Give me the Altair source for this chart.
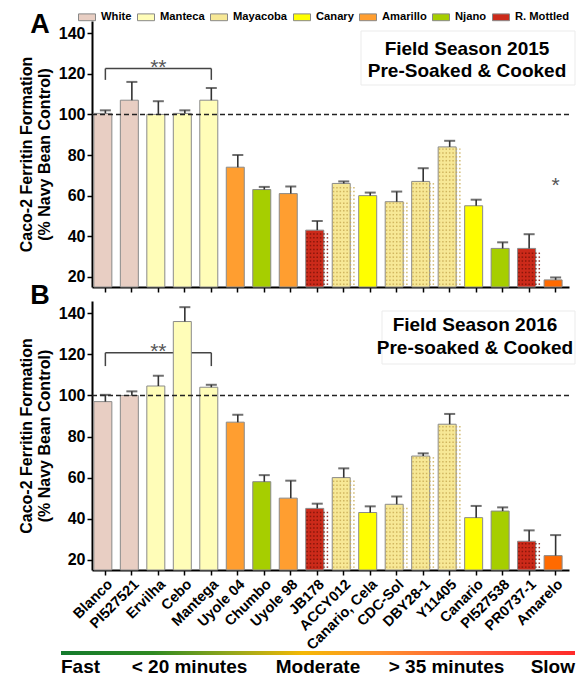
import altair as alt
import pandas as pd

FONT = "Liberation Sans"

# ---------------- data ----------------
cultivars = ["Blanco", "PI527521", "Ervilha", "Cebo", "Mantega", "Uyole 04", "Chumbo",
             "Uyole 98", "JB178", "ACCY012", "Canario, Cela", "CDC-Sol", "DBY28-1",
             "Y11405", "Canario", "PI527538", "PR0737-1", "Amarelo"]
market_class = ["White", "White", "Manteca", "Manteca", "Manteca", "Amarillo", "Njano",
                "Amarillo", "R. Mottled", "Mayacoba", "Canary", "Mayacoba", "Mayacoba",
                "Mayacoba", "Canary", "Njano", "R. Mottled", "Amarelo"]
ferritin_2015 = [100.5, 107, 100, 100.5, 107, 74, 63, 61, 43, 66, 60, 57, 67, 84, 55, 34, 34, 18.5]
sem_2015 = [1.5, 9, 6.5, 1.5, 6, 6, 1.3, 3.5, 4.5, 1, 1.5, 5, 6.5, 3, 3, 3, 7, 1.2]
ferritin_2016 = [97, 100, 104.6, 136, 104, 87, 58, 50, 45, 60, 43, 47, 70.5, 86, 40.5, 43.7, 29, 22]
sem_2016 = [3.3, 2, 5, 7, 1.2, 3.6, 3.2, 8.5, 2.3, 4.5, 3, 3.8, 1.3, 5, 5.7, 1.8, 5.3, 10]

legend_classes = ["White", "Manteca", "Mayacoba", "Canary", "Amarillo", "Njano", "R. Mottled"]
class_order = legend_classes + ["Amarelo"]
class_colors = ["#E8CEC3", "#FFFDB8", "#F7E896", "#FFFF00", "#FF9E30", "#A6CE00", "#CC2A1A", "#FF6A00"]

# dotted textures (Mayacoba, R. Mottled)
textured_classes = ["Mayacoba", "R. Mottled"]
texture_colors = ["#C9AC55", "#7E1408"]

navy_reference = [100]
y_ticks = [20, 40, 60, 80, 100, 120, 140]

titles_2015 = ["Field Season 2015", "Pre-Soaked & Cooked"]
titles_2016 = ["Field Season 2016", "Pre-soaked & Cooked"]

bracket_2015 = {"x_start": ["Blanco"], "x_end": ["Mantega"], "star_x": ["Ervilha"],
                "top": [122.6], "foot": [117.0]}
bracket_2016 = {"x_start": ["Blanco"], "x_end": ["Mantega"], "star_x": ["Ervilha"],
                "top": [120.8], "foot": [114.3]}
single_star_2015 = {"x": ["Amarelo"], "y": [62.0]}

speed_labels = ["Fast", "< 20 minutes", "Moderate", "> 35 minutes", "Slow"]
speed_marks = [0, 0.25, 0.5, 0.75, 1]

# ---------------- helpers ----------------
W = 477
HA = 266
HB = 269


def xenc(field, show_labels):
    return alt.X(
        field + ":N",
        scale=alt.Scale(domain=cultivars, paddingInner=0.13, paddingOuter=0.07),
        axis=alt.Axis(labels=show_labels, title=None, labelAngle=-45, labelFontSize=14.5,
                      labelFontWeight="bold", labelColor="black", tickSize=5, tickWidth=1.5,
                      tickColor="black", domainColor="black", domainWidth=2, labelPadding=2,
                      grid=False, labelLimit=300),
    )


def yenc(field):
    return alt.Y(
        field + ":Q",
        scale=alt.Scale(domain=[15, 146], zero=False, nice=False, clamp=True),
        axis=alt.Axis(values=y_ticks, title=["Caco-2 Ferritin Formation", "(% Navy Bean Control)"],
                      titleFontSize=16, titleFontWeight="bold", titleColor="black",
                      labelFontSize=16, labelFontWeight="bold", labelColor="black",
                      titlePadding=6, domainWidth=2, domainColor="black", tickColor="black",
                      tickWidth=1.5, tickSize=5, labelPadding=2, grid=False),
    )


color_enc = alt.Color(
    "cls:N",
    scale=alt.Scale(domain=class_order, range=class_colors),
    legend=alt.Legend(values=legend_classes, orient="none", legendX=-14, legendY=-13,
                      direction="horizontal", columns=7, title=None,
                      symbolType="M-1,-0.4L1,-0.4L1,0.4L-1,0.4Z", symbolSize=289,
                      symbolStrokeColor="#888888", symbolStrokeWidth=1, symbolOpacity=1,
                      labelFontSize=11.2, labelFontWeight="bold", labelFont=FONT,
                      labelColor="black", columnPadding=3, labelOffset=5),
)


def dot_layer(base, cls, color, show_x):
    # dot texture inside the patterned bars, generated from each bar's own value
    return base.transform_filter(
        alt.FieldEqualPredicate(field="cls", equal=cls)
    ).transform_calculate(
        ys="sequence(16.4, datum.mean - 0.6, 1.9)", cols="[0, 1, 2, 3, 4, 5, 6]"
    ).transform_flatten(["ys"]).transform_flatten(["cols"]).mark_square(
        size=2.2, opacity=0.85, strokeWidth=0, color=color).encode(
        x=xenc("cultivar", show_x),
        xOffset=alt.XOffset("cols:O", scale=alt.Scale(paddingOuter=0.4)),
        y=yenc("ys"))


def panel(means, errs, show_x, letter, letter_y, titles, ann_x, ann_y, ann_lh, box, bracket, star=None):
    df = pd.DataFrame({"cultivar": cultivars, "cls": market_class, "mean": means, "sem": errs})
    df["hi"] = df["mean"] + df["sem"]
    base = alt.Chart(df)

    bdf = pd.DataFrame(bracket)
    rule_kw = dict(color="#444444", strokeWidth=1.5)
    bracket_h = alt.Chart(bdf).mark_rule(**rule_kw).encode(
        x=xenc("x_start", show_x), x2="x_end:N", y=yenc("top"))
    bracket_l = alt.Chart(bdf).mark_rule(**rule_kw).encode(
        x=xenc("x_start", show_x), y=yenc("top"), y2="foot:Q")
    bracket_r = alt.Chart(bdf).mark_rule(**rule_kw).encode(
        x=xenc("x_end", show_x), y=yenc("top"), y2="foot:Q")
    stars = alt.Chart(bdf).mark_text(text="**", fontSize=21, font=FONT, color="#555555",
                                     baseline="alphabetic", dy=5).encode(
        x=xenc("star_x", show_x), y=yenc("top"))

    bars = base.mark_bar(stroke="#8a8a8a", strokeWidth=1).encode(
        x=xenc("cultivar", show_x), y=yenc("mean"), color=color_enc)
    dots = [dot_layer(base, c, col, show_x) for c, col in zip(textured_classes, texture_colors)]

    err_rule = base.mark_rule(color="#333333", strokeWidth=1.6).encode(
        x=xenc("cultivar", show_x), y=yenc("mean"), y2="hi:Q")
    err_cap = base.mark_tick(color="#333333", thickness=2, size=11, orient="horizontal").encode(
        x=xenc("cultivar", show_x), y=yenc("hi"))

    dashed = alt.Chart(pd.DataFrame({"ref": navy_reference})).mark_rule(
        strokeDash=[5, 3], color="#222222", strokeWidth=1.5).encode(y=yenc("ref"))

    one = pd.DataFrame({"k": [0]})
    box_mark = alt.Chart(one).mark_rect(fill="white", stroke="#ebebeb", strokeWidth=1).encode(
        x=alt.value(box[0]), x2=alt.value(box[1]), y=alt.value(box[2]), y2=alt.value(box[3]))
    tkw = dict(fontSize=19, fontWeight="bold", font=FONT, color="black", baseline="middle")
    t1 = alt.Chart(one).mark_text(text=titles[0], **tkw).encode(
        x=alt.value(ann_x), y=alt.value(ann_y))
    t2 = alt.Chart(one).mark_text(text=titles[1], **tkw).encode(
        x=alt.value(ann_x), y=alt.value(ann_y + ann_lh))
    let = alt.Chart(one).mark_text(text=letter, fontSize=27, fontWeight="bold", font=FONT,
                                   color="black", baseline="alphabetic").encode(
        x=alt.value(-52), y=alt.value(letter_y))

    layers = [box_mark, bracket_h, bracket_l, bracket_r, bars] + dots + \
             [dashed, err_rule, err_cap, stars, t1, t2, let]
    if star is not None:
        layers.append(alt.Chart(pd.DataFrame(star)).mark_text(
            text="*", fontSize=21, font=FONT, color="#555555", baseline="alphabetic").encode(
            x=xenc("x", show_x), y=yenc("y")))
    return alt.layer(*layers)


panel_a = panel(ferritin_2015, sem_2015, False, "A", 12, titles_2015, 375, 28, 22,
                (269, 483, 10, 64), bracket_2015, single_star_2015).properties(width=W, height=HA)
panel_b_core = panel(ferritin_2016, sem_2016, True, "B", 3, titles_2016, 383, 24, 23,
                     (290, 483, 10, 63), bracket_2016, None)

# speed-of-cooking gradient bar, drawn below panel B with its own x scale
sdf = pd.DataFrame({"start": [0], "end": [1]})
gx = alt.Scale(domain=[0, 1], range=[-31, 483])
grad = alt.Gradient(
    gradient="linear", x1=0, x2=1, y1=0, y2=0,
    stops=[alt.GradientStop(color="#137a2d", offset=0),
           alt.GradientStop(color="#2f8a22", offset=0.18),
           alt.GradientStop(color="#93a71c", offset=0.33),
           alt.GradientStop(color="#f4b805", offset=0.47),
           alt.GradientStop(color="#ff922c", offset=0.62),
           alt.GradientStop(color="#ff5a38", offset=0.8),
           alt.GradientStop(color="#ff2a2a", offset=1)])
BAR_Y = HB + 81
bar_rect = alt.Chart(sdf).mark_rect(fill=grad).encode(
    x=alt.X("start:Q", scale=gx, axis=None), x2="end:Q",
    y=alt.value(BAR_Y), y2=alt.value(BAR_Y + 4))
ldf = pd.DataFrame({"label": speed_labels, "pos": speed_marks})
txt_kw = dict(fontSize=19, fontWeight="bold", font=FONT, color="black", baseline="middle")
lab_left = alt.Chart(ldf).transform_filter("datum.pos == 0").mark_text(align="left", **txt_kw).encode(
    x=alt.X("pos:Q", scale=gx, axis=None), y=alt.value(BAR_Y + 16), text="label:N")
lab_mid = alt.Chart(ldf).transform_filter("datum.pos > 0 && datum.pos < 1").mark_text(align="center", **txt_kw).encode(
    x=alt.X("pos:Q", scale=gx, axis=None), y=alt.value(BAR_Y + 16), text="label:N")
lab_right = alt.Chart(ldf).transform_filter("datum.pos == 1").mark_text(align="right", **txt_kw).encode(
    x=alt.X("pos:Q", scale=gx, axis=None), y=alt.value(BAR_Y + 16), text="label:N")
speed = alt.layer(bar_rect, lab_left, lab_mid, lab_right)

panel_b = alt.layer(panel_b_core, speed).resolve_scale(x="independent").properties(width=W, height=HB)

chart = alt.vconcat(panel_a, panel_b, spacing=14, bounds="flush").properties(
    padding={"left": 10, "top": 0, "right": 0, "bottom": 0}
).configure_view(stroke=None).configure_axis(labelFont=FONT, titleFont=FONT)

chart.save("out.html", embed_options={"renderer": "svg", "actions": False})
